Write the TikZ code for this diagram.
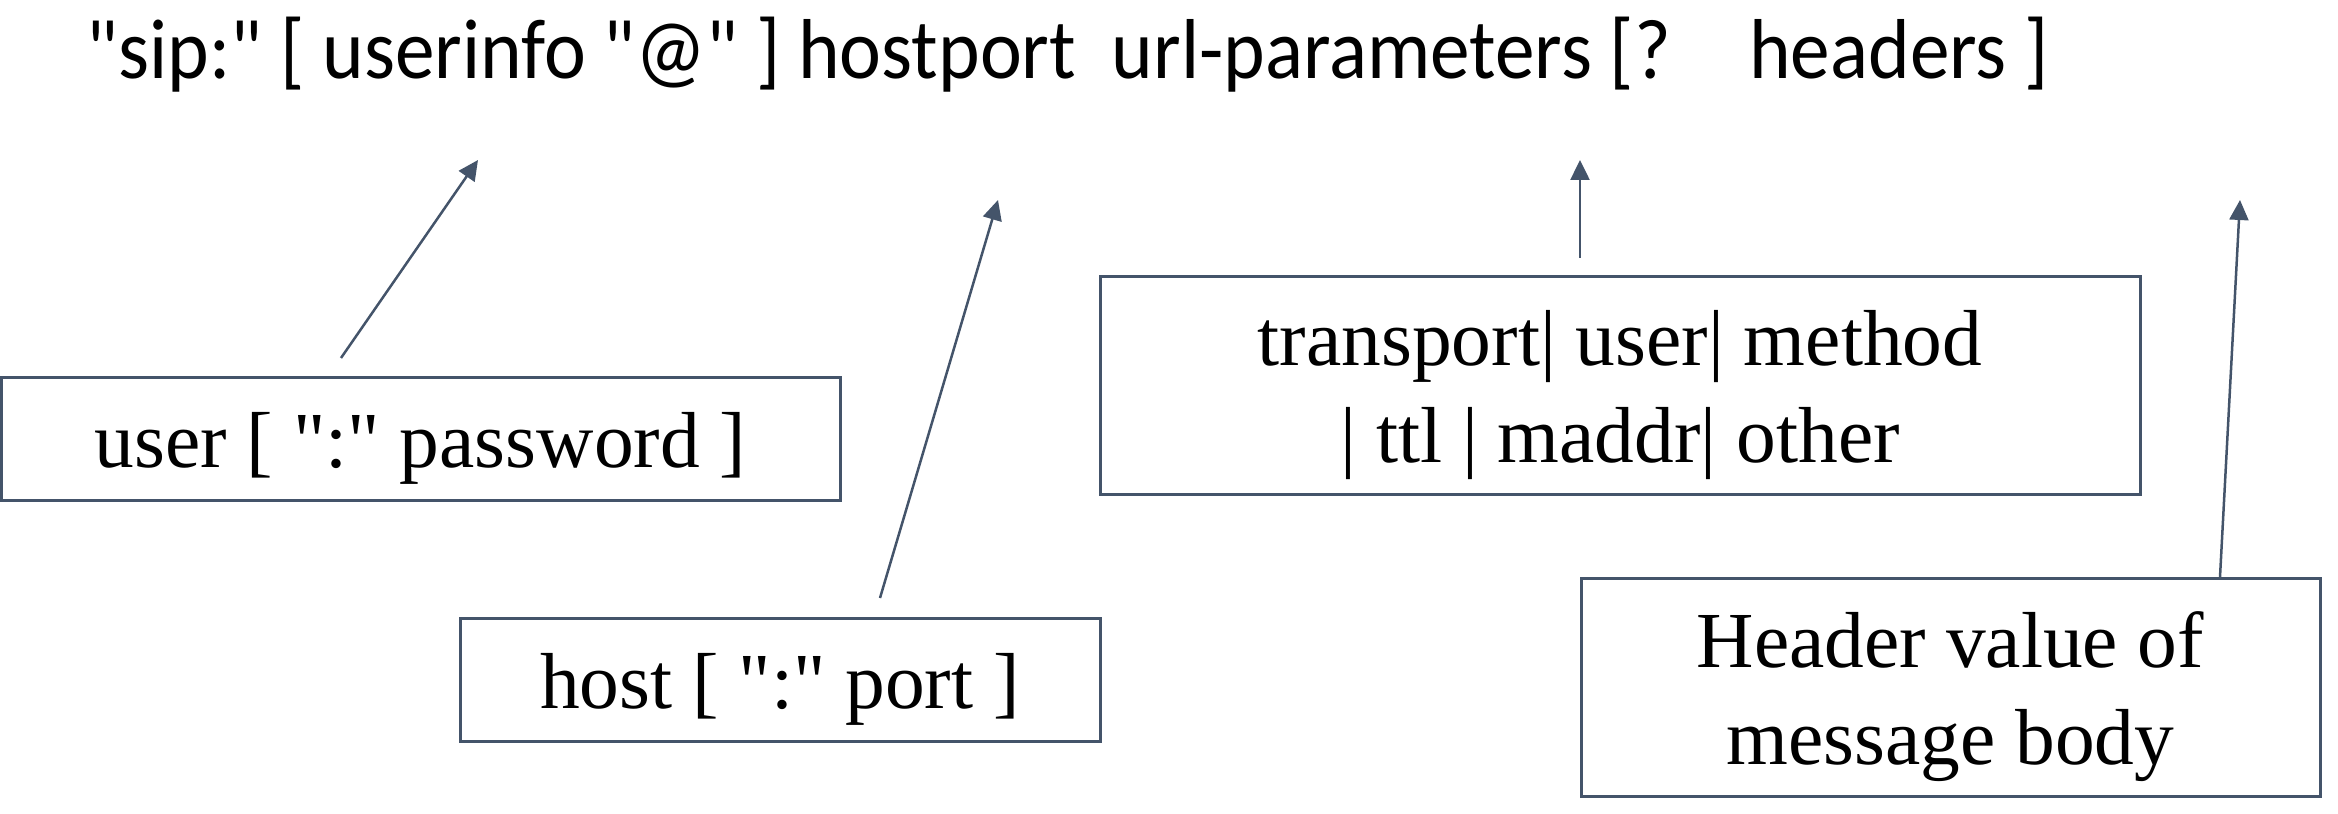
\documentclass[tikz,border=0pt]{standalone}
\usepackage{fontspec}
\setmainfont{Liberation Serif}[Ligatures=TeXOff]
\newfontfamily\calib{Carlito}
\usepackage{tikz}
\usetikzlibrary{arrows.meta}
\usepackage{xcolor}
\definecolor{slate}{HTML}{44546A}

\begin{document}
\begin{tikzpicture}[x=0.1mm,y=-0.1mm,
  box/.style={draw=slate,line width=0.3mm,inner sep=0pt,align=center,text depth=0pt,
    font=\fontsize{22.6}{27.6}\selectfont},
  arr/.style={draw=slate,line width=0.25mm,-{Triangle[length=2mm,width=1.9mm]}}]
  \useasboundingbox (0,0) rectangle (2338,814);

  %%%%%%% URI LINE
  \node[anchor=base west,inner sep=0pt,font=\calib\fontsize{24.2}{28}\selectfont] (uri) at (86,79)
    {\scalebox{0.932}[1]{"sip:" [ userinfo "@" ] hostport\ \ url-parameters [?\hspace{0.99em}headers ]}};

  %%%%%%% BOXES
  \node[box,minimum width=83.9mm,minimum height=12.3mm] (user) at (420.5,439.5) {user [ ":" password ]};
  \node[box,minimum width=64mm,minimum height=12.3mm] (host) at (780,680.5) {host [ ":" port ]};
  \node[box,minimum width=104mm,minimum height=21.8mm] (param) at (1620,386)
    {transport| user| method\\| ttl | maddr| other};
  \node[box,minimum width=73.9mm,minimum height=21.8mm] (hdr) at (1950.5,688)
    {Header value of\\message body};

  %%%%%%% ARROWS
  \coordinate (userTail) at (341,358);  \coordinate (userHead) at (478,160);
  \coordinate (hostTail) at (880,598);  \coordinate (hostHead) at (998,200);
  \coordinate (paramTail) at (1580,258); \coordinate (paramHead) at (1580,160);
  \coordinate (hdrTail) at (2220,577);  \coordinate (hdrHead) at (2240,200);
  \draw[arr] (userTail) -- (userHead);
  \draw[arr] (hostTail) -- (hostHead);
  \draw[arr] (paramTail) -- (paramHead);
  \draw[arr] (hdrTail) -- (hdrHead);
\end{tikzpicture}
\end{document}
